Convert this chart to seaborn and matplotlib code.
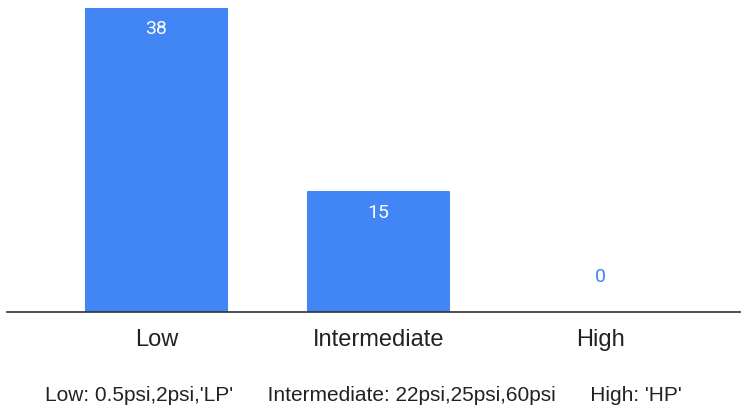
import matplotlib
matplotlib.use("Agg")
import matplotlib.pyplot as plt
import seaborn as sns
import pandas as pd

categories = ["Low", "Intermediate", "High"]
counts = [38, 15, 0]
footnote = "Low: 0.5psi,2psi,'LP'      Intermediate: 22psi,25psi,60psi      High: 'HP'"

df = pd.DataFrame({"category": categories, "count": counts})

sns.set_theme(style="white")
plt.rcParams["font.family"] = ["Liberation Sans", "DejaVu Sans"]

blue = "#4285F4"
fig = plt.figure(figsize=(7.41, 4.09), dpi=100)
ax = fig.add_axes([7 / 741, (409 - 312) / 409, 734 / 741, 304 / 409])

sns.barplot(data=df, x="category", y="count", color=blue, saturation=1,
            width=0.636, ax=ax)

# slightly rounded corners like the original (no edge on empty bars)
for p in ax.patches:
    if p.get_height() > 0:
        p.set_edgecolor(blue)
        p.set_linewidth(1.5)
        p.set_joinstyle("round")
    else:
        p.set_linewidth(0)

ax.set_xlim(-0.673, 2.633)
ax.set_ylim(0, 38)

# value labels: inside the bar in white, above the axis in blue when too small
for i, v in enumerate(counts):
    inside = v >= 5
    ax.annotate(str(v), (i, v), xytext=(0, -15 if inside else 25),
                textcoords="offset points", ha="center", va="center",
                color="white" if inside else blue, fontsize=14,
                family=["Roboto", "DejaVu Sans"], annotation_clip=False)

for s in ["top", "right", "left"]:
    ax.spines[s].set_visible(False)
ax.spines["bottom"].set_color("#333333")
ax.spines["bottom"].set_linewidth(1.2)
ax.set_yticks([])
ax.set_ylabel("")
ax.tick_params(axis="x", length=0, pad=12.5, labelsize=17, colors="#222222")
ax.set_xlabel(footnote, fontsize=15, color="#222222", labelpad=25)
ax.xaxis.label.set_x((363.5 - 7) / 734)

fig.savefig("out.png", dpi=100)
